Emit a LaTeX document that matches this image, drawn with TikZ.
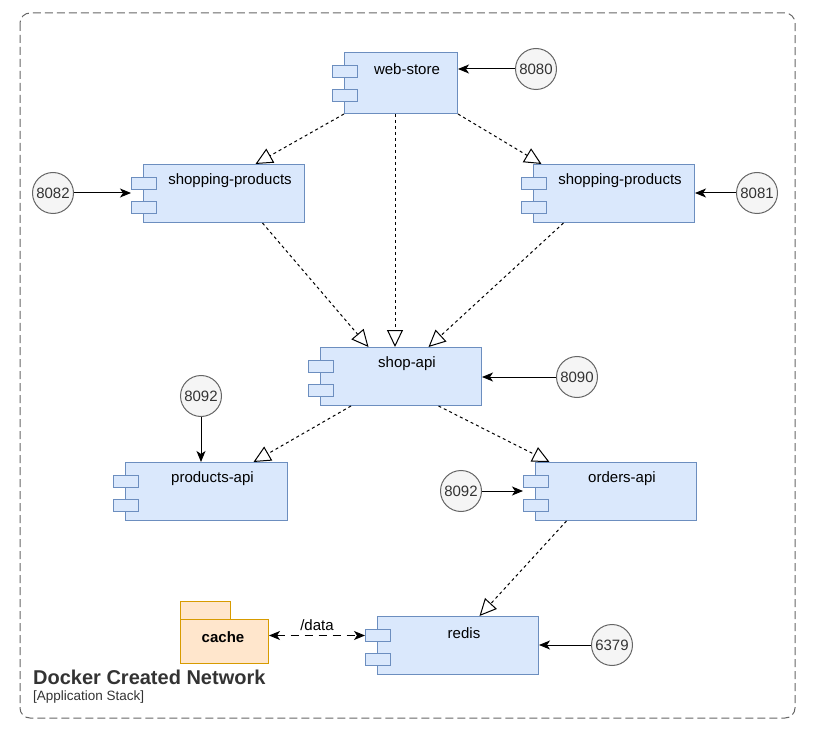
\documentclass[tikz,border=0pt]{standalone}
\usepackage{fontspec}
\setmainfont{Liberation Sans}
\usetikzlibrary{arrows.meta}
\definecolor{cfill}{HTML}{DAE8FC}
\definecolor{cdraw}{HTML}{6C8EBF}
\definecolor{gfill}{HTML}{F5F5F5}
\definecolor{gdraw}{HTML}{666666}
\definecolor{gtext}{HTML}{333333}
\definecolor{ofill}{HTML}{FFE6CC}
\definecolor{odraw}{HTML}{D79B00}
\tikzset{
  compbody/.style={draw=cdraw, fill=cfill, line width=1pt, inner sep=0pt},
  portbox/.style={draw=cdraw, fill=cfill, line width=1pt, inner sep=0pt, minimum width=25pt, minimum height=12pt},
  comptext/.style={font=\fontsize{15}{17}\selectfont, text=black},
  portcirc/.style={circle, draw=gdraw, fill=gfill, line width=1pt, minimum size=41pt, inner sep=0pt, text=gtext, font=\fontsize{15}{17}\selectfont},
  solidarrow/.style={draw=black, line width=1pt, -{Stealth[length=11pt,width=9pt,inset=3pt]}},
  depend/.style={draw=black, line width=1pt, dash pattern=on 3pt off 3pt, -{Triangle[open,length=17pt,width=16pt,fill=white]}},
  datalink/.style={draw=black, line width=1pt, dash pattern=on 8pt off 6pt, {Stealth[length=11pt,width=9pt,inset=3pt]}-{Stealth[length=11pt,width=9pt,inset=3pt]}},
}
\newcommand{\mycomp}[6]{%
  \node[compbody, minimum width=#4pt, minimum height=#5pt, anchor=north west] (#1) at (#2,#3) {};
  \node[portbox, anchor=north west] (#1-p1) at (#2-12,#3+13) {};
  \node[portbox, anchor=north west] (#1-p2) at (#2-12,#3+37) {};
  \node[comptext] (#1-t) at ([xshift=6pt,yshift=-17pt]#1.north) {#6};
}
\begin{document}
\begin{tikzpicture}[x=1pt,y=-1pt]
\useasboundingbox (0,0) rectangle (815,733);
% frame
\draw[draw=gdraw, line width=1pt, dash pattern=on 8pt off 4pt, rounded corners=10pt] (20,13) rectangle (795,718);
\node[anchor=west, text=gtext, font=\fontsize{20}{22}\selectfont\bfseries, inner sep=0pt] (title) at (33,677) {Docker Created Network};
\node[anchor=west, text=gtext, font=\fontsize{13.5}{15}\selectfont, inner sep=0pt] (subtitle) at (33,697) {[Application Stack]};

% components
\mycomp{ws}{344}{52}{113}{61}{web-store}
\mycomp{spl}{143}{164}{161}{58}{shopping-products}
\mycomp{spr}{533}{164}{161}{58}{shopping-products}
\mycomp{sa}{320}{347}{161}{58}{shop-api}
\mycomp{pa}{125}{462}{162}{58}{products-api}
\mycomp{oa}{535}{462}{161}{58}{orders-api}
\mycomp{rd}{377}{616}{161}{58}{redis}

% cache package
\node[draw=odraw, fill=ofill, line width=1pt, minimum width=50pt, minimum height=18pt, inner sep=0pt, anchor=north west] (ctab) at (180,601) {};
\node[draw=odraw, fill=ofill, line width=1pt, minimum width=88pt, minimum height=44pt, inner sep=0pt, anchor=north west] (cache) at (180,619) {};
\node[font=\fontsize{15}{17}\selectfont\bfseries] (cachet) at (223,637) {cache};

% port circles
\node[portcirc] (c8080) at (536,69) {8080};
\node[portcirc] (c8082) at (53,193) {8082};
\node[portcirc] (c8081) at (757,193) {8081};
\node[portcirc] (c8090) at (577,377) {8090};
\node[portcirc] (c8092a) at (201,396) {8092};
\node[portcirc] (c8092b) at (461,491) {8092};
\node[portcirc] (c6379) at (612,645) {6379};

% solid arrows
\draw[solidarrow] (c8080) -- (ws.east |- c8080);
\draw[solidarrow] (c8082) -- (spl-p1.west |- c8082);
\draw[solidarrow] (c8081) -- (spr.east |- c8081);
\draw[solidarrow] (c8090) -- (sa.east |- c8090);
\draw[solidarrow] (c8092a) -- (pa.north -| c8092a);
\draw[solidarrow] (c8092b) -- (oa-p1.west |- c8092b);
\draw[solidarrow] (c6379) -- (rd.east |- c6379);

% dependencies
\draw[depend] (ws.south west) -- ([xshift=31.5pt]spl.north);
\draw[depend] (ws.south east) -- ([xshift=-72.5pt]spr.north);
\draw[depend] ([xshift=-6pt]ws.south) -- ([xshift=-6pt]sa.north);
\draw[depend] ([xshift=38.5pt]spl.south) -- ([xshift=-32.5pt]sa.north);
\draw[depend] ([xshift=-50.5pt]spr.south) -- ([xshift=27.5pt]sa.north);
\draw[depend] ([xshift=-50pt]sa.south) -- ([xshift=47pt]pa.north);
\draw[depend] ([xshift=37.5pt]sa.south) -- ([xshift=-66.5pt]oa.north);
\draw[depend] ([xshift=-49.5pt]oa.south) -- ([xshift=21.5pt]rd.north);

% data link
\draw[datalink] (cache.east |- rd-p1) -- node[above=1pt, font=\fontsize{15}{17}\selectfont] (datalbl) {/data} (rd-p1.west);
\end{tikzpicture}
\end{document}
